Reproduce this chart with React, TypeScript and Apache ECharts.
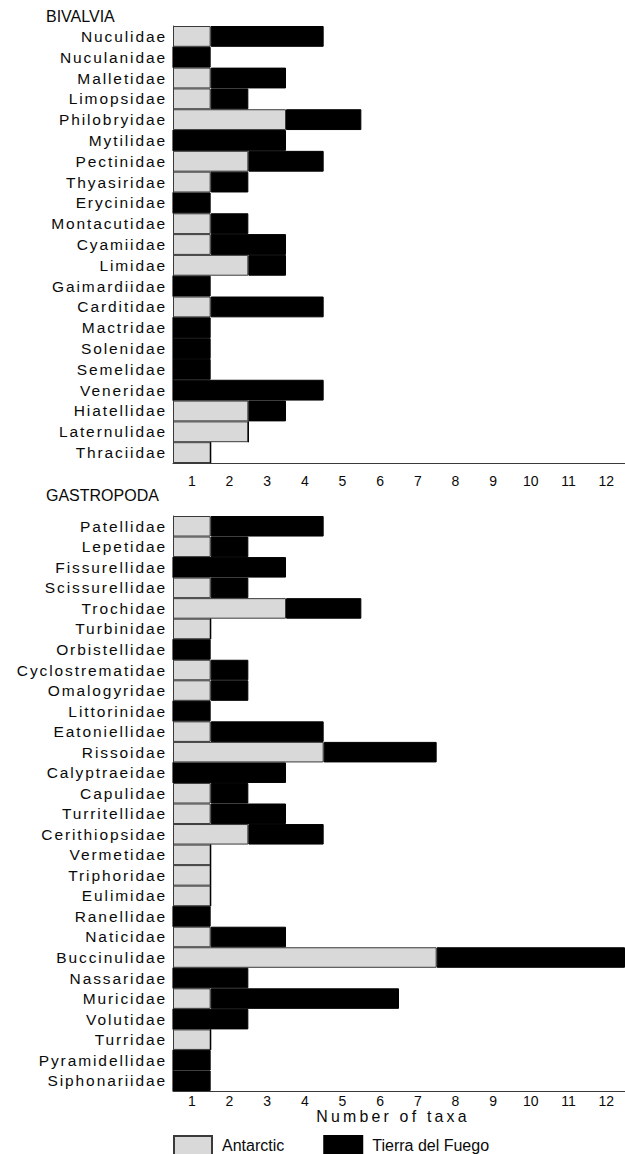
import React, { useEffect, useRef } from 'react';
import * as echarts from 'echarts';

const bivalviaFamilies = [
  'Nuculidae', 'Nuculanidae', 'Malletidae', 'Limopsidae', 'Philobryidae', 'Mytilidae',
  'Pectinidae', 'Thyasiridae', 'Erycinidae', 'Montacutidae', 'Cyamiidae', 'Limidae',
  'Gaimardiidae', 'Carditidae', 'Mactridae', 'Solenidae', 'Semelidae', 'Veneridae',
  'Hiatellidae', 'Laternulidae', 'Thraciidae',
];
const bivalviaAntarctic = [1, 0, 1, 1, 3, 0, 2, 1, 0, 1, 1, 2, 0, 1, 0, 0, 0, 0, 2, 2, 1];
const bivalviaFuego = [3, 1, 2, 1, 2, 3, 2, 1, 1, 1, 2, 1, 1, 3, 1, 1, 1, 4, 1, 0, 0];

const gastropodaFamilies = [
  'Patellidae', 'Lepetidae', 'Fissurellidae', 'Scissurellidae', 'Trochidae', 'Turbinidae',
  'Orbistellidae', 'Cyclostrematidae', 'Omalogyridae', 'Littorinidae', 'Eatoniellidae',
  'Rissoidae', 'Calyptraeidae', 'Capulidae', 'Turritellidae', 'Cerithiopsidae', 'Vermetidae',
  'Triphoridae', 'Eulimidae', 'Ranellidae', 'Naticidae', 'Buccinulidae', 'Nassaridae',
  'Muricidae', 'Volutidae', 'Turridae', 'Pyramidellidae', 'Siphonariidae',
];
const gastropodaAntarctic = [1, 1, 0, 1, 3, 1, 0, 1, 1, 0, 1, 4, 0, 1, 1, 2, 1, 1, 1, 0, 1, 7, 0, 1, 0, 1, 0, 0];
const gastropodaFuego = [3, 1, 3, 1, 2, 0, 1, 1, 1, 1, 3, 3, 3, 1, 2, 2, 0, 0, 0, 1, 2, 5, 2, 5, 2, 0, 1, 1];

const xTickLabels = [1, 2, 3, 4, 5, 6, 7, 8, 9, 10, 11, 12];
const axisMin = 0.5;
const axisMax = 12.5;
const seriesNames = ['Antarctic', 'Tierra del Fuego'];
const panelTitles = ['BIVALVIA', 'GASTROPODA'];
const xAxisTitle = 'Number of taxa';

const FONT = "'Liberation Sans', Arial, sans-serif";
const GREY = '#d9d9d9';
const BORDER = '#3a3a3a';
const TEXT = '#0a0a0a';

export default function App() {
  const ref = useRef<HTMLDivElement>(null);

  useEffect(() => {
    if (!ref.current) return;
    const chart = echarts.init(ref.current, undefined, { renderer: 'svg' });

    const panels = [
      { cats: bivalviaFamilies, ant: bivalviaAntarctic, fue: bivalviaFuego },
      { cats: gastropodaFamilies, ant: gastropodaAntarctic, fue: gastropodaFuego },
    ];

    const series: any[] = [];
    panels.forEach((p, i) => {
      series.push({
        type: 'bar',
        name: 'offset' + i,
        xAxisIndex: i,
        yAxisIndex: i,
        stack: 's' + i,
        barCategoryGap: '0%',
        silent: true,
        itemStyle: { color: 'rgba(0,0,0,0)', borderWidth: 0 },
        data: p.cats.map(() => axisMin),
      });
      series.push({
        type: 'bar',
        name: seriesNames[0],
        xAxisIndex: i,
        yAxisIndex: i,
        stack: 's' + i,
        barCategoryGap: '0%',
        itemStyle: { color: GREY, borderColor: BORDER, borderWidth: 1 },
        data: p.ant,
      });
      series.push({
        type: 'bar',
        name: seriesNames[1],
        xAxisIndex: i,
        yAxisIndex: i,
        stack: 's' + i,
        barCategoryGap: '0%',
        itemStyle: { color: '#000', borderColor: '#000', borderWidth: 1 },
        data: p.fue,
      });
    });

    const xAxisBase = (i: number) => ({
      type: 'value',
      gridIndex: i,
      min: axisMin,
      max: axisMax,
      splitLine: { show: false },
      axisTick: { show: false },
      axisLine: { show: true, onZero: false, lineStyle: { color: BORDER, width: 1 } },
      axisLabel: {
        customValues: xTickLabels,
        fontSize: 14,
        color: TEXT,
        fontFamily: FONT,
        margin: i === 0 ? 11 : 3,
      },
    });

    const yAxisBase = (i: number, cats: string[]) => ({
      type: 'category',
      gridIndex: i,
      inverse: true,
      data: cats,
      axisTick: { show: false },
      axisLine: { show: true, lineStyle: { color: BORDER, width: 1 } },
      axisLabel: { interval: 0, fontSize: 15.5, color: TEXT, fontFamily: FONT, margin: 6 },
    });

    chart.setOption({
      animation: false,
      backgroundColor: '#fff',
      title: [
        {
          text: panelTitles[0], left: 46, top: 8, padding: 0,
          textStyle: { fontSize: 16, fontWeight: 'normal', color: TEXT, fontFamily: FONT },
        },
        {
          text: panelTitles[1], left: 46, top: 487, padding: 0,
          textStyle: { fontSize: 16, fontWeight: 'normal', color: TEXT, fontFamily: FONT },
        },
      ],
      legend: {
        data: seriesNames,
        left: 173,
        top: 1135,
        padding: 0,
        itemWidth: 38,
        itemHeight: 19,
        itemGap: 39,
        icon: 'rect',
        selectedMode: false,
        textStyle: { fontSize: 16, color: TEXT, fontFamily: FONT, padding: [0, 0, 0, 5] },
      },
      grid: [
        { left: 173, top: 26, width: 453, height: 437 },
        { left: 173, top: 516, width: 453, height: 575 },
      ],
      xAxis: [
        xAxisBase(0),
        {
          ...xAxisBase(1),
          name: xAxisTitle,
          nameLocation: 'middle',
          nameGap: 17,
          nameTextStyle: {
            fontSize: 15.9, color: TEXT, fontFamily: FONT, padding: [0, 12, 0, 0],
            verticalAlign: 'top',
          },
        },
      ],
      yAxis: [yAxisBase(0, bivalviaFamilies), yAxisBase(1, gastropodaFamilies)],
      series,
    });

    return () => chart.dispose();
  }, []);

  return (
    <>
      <style>{`
        #chart-box text[style*="15.5px"] { letter-spacing: 1.9px; }
        #chart-box text[style*="15.9px"] { letter-spacing: 3.2px; }
      `}</style>
      <div
        id="chart-box"
        ref={ref}
        style={{ position: 'absolute', left: 0, top: 0, width: 625, height: 1154 }}
      />
    </>
  );
}
